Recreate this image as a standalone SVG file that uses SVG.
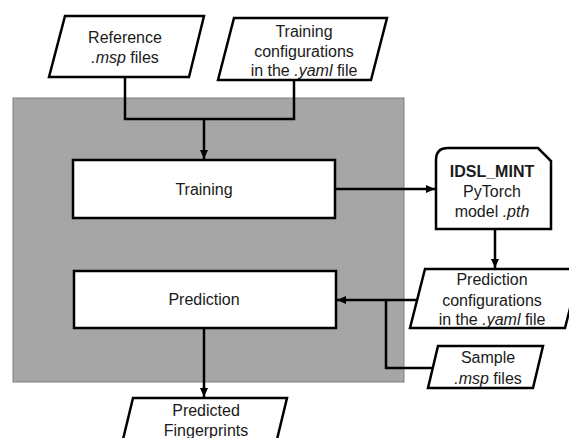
<svg xmlns="http://www.w3.org/2000/svg" width="569" height="438" viewBox="0 0 569 438">
<style>
.box{fill:#fff;stroke:#000;stroke-width:2.5}
.ln{fill:none;stroke:#000;stroke-width:2.5}
text{font-family:"Liberation Sans",Arial,sans-serif;font-size:16px;fill:#1a1a1a;text-anchor:middle}
.i{font-style:italic}
.b{font-weight:bold}
</style>
<defs>
<marker id="ah" markerUnits="userSpaceOnUse" markerWidth="10" markerHeight="10" viewBox="0 0 10 10" refX="9" refY="5" orient="auto">
<path d="M0,1 L9,5 L0,9 Z" fill="#000"/>
</marker>
</defs>
<rect id="container" x="13" y="98" width="391" height="284" fill="#a6a6a6" stroke="#7f7f7f" stroke-width="1"/>
<g id="ref">
<polygon class="box" points="65,16 204,16 189,77 49,77"/>
<text x="125" y="43">Reference</text>
<text x="125" y="63"><tspan class="i">.msp</tspan> files</text>
</g>
<g id="tconf">
<polygon class="box" points="234,18 387,18 371,80 218,80"/>
<text x="304" y="37">Training</text>
<text x="304" y="57">configurations</text>
<text x="304" y="76">in the <tspan class="i">.yaml</tspan> file</text>
</g>
<g id="training">
<rect class="box" x="73" y="160" width="262" height="58"/>
<text x="204" y="195">Training</text>
</g>
<g id="model">
<path class="box" d="M448,148 H538 L551,161 V229 H436 V160 Q436,148 448,148 Z"/>
<text x="492" y="177" class="b">IDSL_MINT</text>
<text x="492" y="197">PyTorch</text>
<text x="492" y="217">model <tspan class="i">.pth</tspan></text>
</g>
<g id="pconf">
<polygon class="box" points="425,269 580,269 565,328 410,328"/>
<text x="492" y="285">Prediction</text>
<text x="492" y="306">configurations</text>
<text x="492" y="325">in the <tspan class="i">.yaml</tspan> file</text>
</g>
<g id="prediction">
<rect class="box" x="74" y="271" width="262" height="57"/>
<text x="204" y="305">Prediction</text>
</g>
<g id="sample">
<polygon class="box" points="438,346 543,346 533,388 428,388"/>
<text x="488" y="363">Sample</text>
<text x="488" y="384"><tspan class="i">.msp</tspan> files</text>
</g>
<g id="pfp">
<polygon class="box" points="133,398 287,398 272,460 118,460"/>
<text x="206" y="416">Predicted</text>
<text x="206" y="436">Fingerprints</text>
</g>
<g id="connectors">
<path class="ln" d="M125,77 V119 H294 V80"/>
<path class="ln" d="M204,119 V159" marker-end="url(#ah)"/>
<path class="ln" d="M335,189 H435" marker-end="url(#ah)"/>
<path class="ln" d="M495,229 V268" marker-end="url(#ah)"/>
<path class="ln" d="M418,300 H337" marker-end="url(#ah)"/>
<path class="ln" d="M433,368 H386 V300"/>
<path class="ln" d="M204,328 V397" marker-end="url(#ah)"/>
</g>
</svg>
